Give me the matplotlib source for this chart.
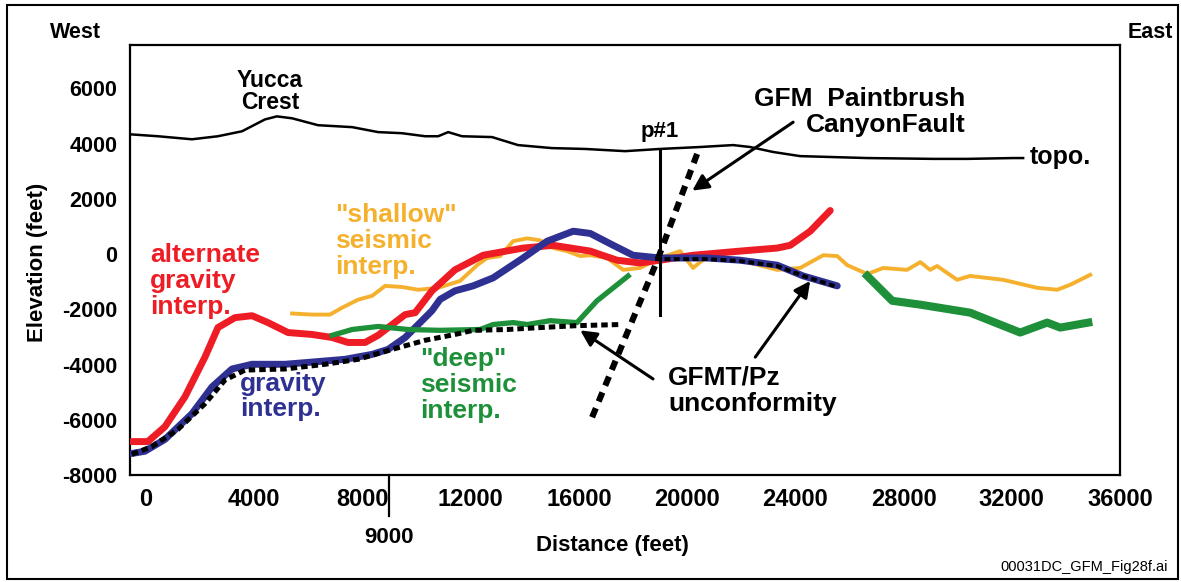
import matplotlib
matplotlib.use("Agg")
import matplotlib.pyplot as plt
from matplotlib.patches import Rectangle
import matplotlib.transforms as mtransforms

plt.rcParams['font.family'] = ['Liberation Sans', 'DejaVu Sans']
plt.rcParams['font.weight'] = 'bold'
plt.rcParams['axes.unicode_minus'] = False

RED = '#ee1c24'
NAVY = '#2e3092'
GREEN = '#1e9039'
ORANGE = '#f5b12e'

# topography along the section
topo_x = [-590, 440, 1700, 2660, 3550, 4400, 4840, 5400, 6360, 7620, 8580, 9460,
          10320, 10800, 11170, 11680, 12790, 13750, 15010, 16230, 17710, 19000,
          20480, 21700, 22330, 23180, 24180, 26660, 29100, 30350, 32050, 32420]
topo_y = [4340, 4270, 4160, 4270, 4450, 4880, 4990, 4920, 4670, 4600, 4420, 4380,
          4270, 4270, 4420, 4270, 4240, 3950, 3840, 3810, 3730, 3810,
          3880, 3950, 3880, 3700, 3550, 3480, 3450, 3450, 3480, 3480]

# alternate gravity interpretation
alt_x = [-520, 70, 700, 1440, 2180, 2660, 3290, 3920, 4510, 5250, 6140, 6880,
         7470, 8100, 8580, 9100, 9580, 9950, 10570, 11420, 12460, 13940, 15050,
         16420, 17410, 18260, 19000, 20220, 21960, 23330, 23810, 24550, 25290]
alt_y = [-6790, -6790, -6250, -5170, -3730, -2660, -2300, -2230, -2480, -2840,
         -2910, -3020, -3200, -3200, -2940, -2550, -2190, -2120, -1330, -570,
         -40, 220, 320, 110, -220, -320, -220, -40, 110, 220, 320, 830, 1580]

# gravity interpretation
grav_x = [-520, -40, 700, 1700, 2440, 3180, 3920, 5140, 6140, 7360, 8360, 8950,
          9580, 10060, 10570, 10870, 11420, 12090, 12830, 13940, 14830, 15790,
          16420, 17270, 18000, 19000, 20740, 21960, 23330, 24290, 25550]
grav_y = [-7220, -7140, -6710, -5780, -4810, -4160, -3990, -3990, -3910, -3810,
          -3630, -3450, -3020, -2550, -2050, -1640, -1330, -1150, -860, -140,
          470, 830, 750, 320, -40, -140, -140, -220, -400, -790, -1150]

# GFMT/Pz unconformity, west part and east part
unc_w_x = [-520, 220, 1180, 2180, 2920, 3660, 5140, 6620, 7840, 9100, 10320,
           11420, 12090, 13350, 14570, 15930, 17520]
unc_w_y = [-7250, -6970, -6350, -5420, -4560, -4200, -4160, -3990, -3810, -3450,
           -3120, -2910, -2760, -2730, -2660, -2590, -2550]
unc_e_x = [18820, 20740, 21960, 23330, 24290, 25550]
unc_e_y = [-180, -180, -250, -430, -790, -1190]

# Paintbrush Canyon fault trace
fault_x = [20370, 18890, 16420]
fault_y = [3630, -250, -6070]

# well p#1
well_x = 19000
well_top, well_bottom = 3730, -2190

# shallow seismic interpretation
shal_x = [5400, 6140, 6800, 7250, 7840, 8360, 8840, 9460, 10060, 10800, 11610,
          12240, 12610, 13090, 13570, 14090, 14570, 15050, 15560, 16050, 16420,
          17040, 17640, 18260, 19000, 19740, 20220, 20670, 21960, 23330, 24180,
          25030, 25550, 25920, 26660, 27250, 28130, 28620, 28980, 29240, 29980,
          30460, 31680, 32940, 33680, 34160, 34900]
shal_y = [-2150, -2190, -2190, -1940, -1650, -1510, -1150, -1190, -1290, -1220,
          -970, -400, -140, -70, 470, 570, 500, 220, 110, -70, -40,
          -140, -570, -500, -140, 110, -500, -140, -220, -570, -500,
          -40, -70, -400, -720, -500, -570, -290, -570, -430, -930,
          -790, -930, -1220, -1290, -1110, -750]

# deep seismic interpretation, west and east parts
deep_w_x = [6880, 7620, 8580, 9690, 10870, 12350, 12830, 13570, 14090, 14940,
            15930, 16670, 17820]
deep_w_y = [-2940, -2730, -2620, -2730, -2760, -2730, -2550, -2480, -2550, -2410,
            -2480, -1690, -790]
deep_e_x = [26660, 27580, 28620, 30460, 32310, 33310, 33790, 34830]
deep_e_y = [-790, -1690, -1830, -2120, -2840, -2480, -2660, -2480]

x_ticks = list(range(0, 36001, 4000))
y_ticks = list(range(-8000, 6001, 2000))

fig = plt.figure(figsize=(11.81, 5.82), dpi=100)
ax = fig.add_axes([130 / 1181, 107 / 582, 990 / 1181, 430 / 582])

ax.plot(shal_x, shal_y, color=ORANGE, lw=2.8, solid_joinstyle='round', zorder=2)
ax.plot(alt_x, alt_y, color=RED, lw=5.0, solid_joinstyle='round',
        solid_capstyle='round', zorder=3)
ax.plot(grav_x, grav_y, color=NAVY, lw=5.0, solid_joinstyle='round',
        solid_capstyle='round', zorder=4)
ax.plot(deep_w_x, deep_w_y, color=GREEN, lw=3.8, solid_joinstyle='round', zorder=5)
ax.plot(deep_e_x, deep_e_y, color=GREEN, lw=5.8, solid_joinstyle='round', zorder=5)

ax.plot(unc_w_x, unc_w_y, color='black', lw=3.6, linestyle=(0, (1.3, 0.8)), zorder=6)
ax.plot(unc_e_x, unc_e_y, color='black', lw=2.8, linestyle=(0, (1.5, 0.9)), zorder=6)
ax.plot(fault_x, fault_y, color='black', lw=4.4, linestyle=(0, (1.6, 1.2)), zorder=6)

ax.plot(topo_x, topo_y, color='black', lw=1.8, zorder=7)
ax.plot([well_x, well_x], [well_top, well_bottom], color='black', lw=2.2, zorder=7)

# labels inside the section
ax.text(4580, 5900, "Yucca\nCrest", ha='center', va='center', fontsize=16.5,
        linespacing=0.95)
ax.text(19000, 4450, "p#1", ha='center', va='center', fontsize=16)
ax.text(30280, 5150, "GFM  Paintbrush\nCanyonFault", ha='right', va='center',
        fontsize=19, linespacing=1.12, multialignment='right')
ax.text(32680, 3520, "topo.", ha='left', va='center', fontsize=18)
ax.text(6990, 470, "\"shallow\"\nseismic\ninterp.", ha='left', va='center',
        fontsize=19, color=ORANGE, linespacing=1.12)
ax.text(150, -970, "alternate\ngravity\ninterp.", ha='left', va='center',
        fontsize=19, color=RED, linespacing=1.12)
ax.text(3480, -5170, "gravity\ninterp.", ha='left', va='center',
        fontsize=19, color=NAVY, linespacing=1.05)
ax.text(10130, -4740, "\"deep\"\nseismic\ninterp.", ha='left', va='center',
        fontsize=19, color=GREEN, linespacing=1.12)
ax.text(19300, -4950, "GFMT/Pz\nunconformity", ha='left', va='center',
        fontsize=19, linespacing=1.12)

arrow = dict(arrowstyle='-|>', lw=2.2, color='black', mutation_scale=24,
             shrinkA=0, shrinkB=0)
ax.annotate("", xy=(20190, 2300), xytext=(23920, 4780), arrowprops=arrow, zorder=8)
ax.annotate("", xy=(16050, -2760), xytext=(18740, -4520), arrowprops=arrow, zorder=8)
ax.annotate("", xy=(24550, -970), xytext=(22520, -3730), arrowprops=arrow, zorder=8)

ax.set_xlim(-590, 36000)
ax.set_ylim(-8000, 7575)
ax.set_xticks(x_ticks)
ax.set_yticks(y_ticks)
ax.tick_params(axis='x', length=0, pad=9, labelsize=17)
ax.tick_params(axis='y', length=0, pad=9, labelsize=15.5)
for s in ax.spines.values():
    s.set_linewidth(1.6)

# extra marker at 9000 ft below the axis
trans = mtransforms.blended_transform_factory(ax.transData, ax.transAxes)
ax.plot([9000, 9000], [0, -0.095], color='black', lw=1.6, transform=trans,
        clip_on=False)
ax.text(9000, -0.145, "9000", transform=trans, ha='center', va='center',
        fontsize=16)

fig.text(38 / 1181, 1 - 262 / 582, "Elevation (feet)", rotation=90,
         ha='center', va='center', fontsize=16)
fig.text(612 / 1181, 1 - 545 / 582, "Distance (feet)", ha='center', va='center',
         fontsize=16)
fig.text(75 / 1181, 1 - 33 / 582, "West", ha='center', va='center', fontsize=15.5)
fig.text(1150 / 1181, 1 - 33 / 582, "East", ha='center', va='center', fontsize=15.5)
fig.text(1168 / 1181, 1 - 567 / 582, "00031DC_GFM_Fig28f.ai", ha='right',
         va='center', fontsize=10.5, fontweight='normal')

fig.add_artist(Rectangle((7 / 1181, 3 / 582), 1171 / 1181, 574 / 582,
                         transform=fig.transFigure, fill=False, lw=1.5,
                         edgecolor='black'))

fig.savefig("out.png", dpi=100)
